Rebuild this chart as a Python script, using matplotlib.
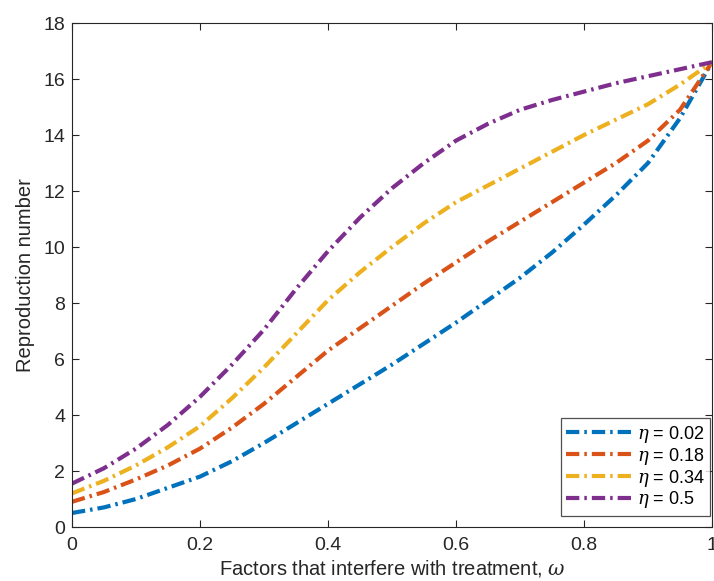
import matplotlib
matplotlib.use("Agg")
import matplotlib.pyplot as plt

plt.rcParams['font.family'] = ['Liberation Sans', 'DejaVu Sans']
plt.rcParams['mathtext.fontset'] = 'dejavuserif'

# valeurs lues sur la figure, pas de 0.05
omega = [0.0, 0.05, 0.1, 0.15, 0.2, 0.25, 0.3, 0.35, 0.4, 0.45, 0.5,
         0.55, 0.6, 0.65, 0.7, 0.75, 0.8, 0.85, 0.9, 0.95, 1.0]
r_002 = [0.5, 0.7, 1.0, 1.4, 1.8, 2.35, 3.0, 3.7, 4.4, 5.1, 5.8,
         6.55, 7.3, 8.1, 8.9, 9.8, 10.8, 11.85, 13.0, 14.6, 16.6]
r_018 = [0.9, 1.25, 1.7, 2.2, 2.8, 3.55, 4.4, 5.35, 6.3, 7.1, 7.9,
         8.7, 9.45, 10.2, 10.9, 11.6, 12.3, 13.0, 13.8, 14.9, 16.6]
r_034 = [1.2, 1.65, 2.2, 2.85, 3.6, 4.6, 5.7, 6.9, 8.1, 9.1, 10.0,
         10.85, 11.6, 12.2, 12.8, 13.4, 14.0, 14.55, 15.1, 15.8, 16.6]
r_05 = [1.55, 2.1, 2.8, 3.65, 4.65, 5.8, 7.05, 8.5, 9.85, 11.05, 12.1,
        13.0, 13.8, 14.4, 14.9, 15.25, 15.55, 15.85, 16.1, 16.35, 16.6]
labels = [r'$\eta$ = 0.02', r'$\eta$ = 0.18', r'$\eta$ = 0.34', r'$\eta$ = 0.5']
colors = ['#0072BD', '#D95319', '#EDB120', '#7E2F8E']

fig = plt.figure(figsize=(7.14, 5.81), dpi=100)
ax = fig.add_axes([72 / 714, 1 - 527 / 581, 640 / 714, 504 / 581])

for ys, lab, c in zip([r_002, r_018, r_034, r_05], labels, colors):
    ax.plot(omega, ys, linestyle=(0, (3.2, 1.2, 0.6, 1.2)), color=c,
            linewidth=3.0, label=lab, solid_joinstyle='round')

ax.set_xlim(0, 1)
ax.set_ylim(0, 18)
ax.set_xticks([0, 0.2, 0.4, 0.6, 0.8, 1])
ax.set_xticklabels(['0', '0.2', '0.4', '0.6', '0.8', '1'])
ax.set_yticks(range(0, 19, 2))
ax.tick_params(direction='in', labelsize=14, length=5, top=True, right=True,
               color='#262626', labelcolor='#262626', pad=5)
ax.tick_params(axis='x', pad=7)
for s in ax.spines.values():
    s.set_color('#262626')
    s.set_linewidth(0.8)

ax.set_xlabel(r'Factors that interfere with treatment, $\omega$', fontsize=14.5,
              color='#262626', labelpad=3)
ax.set_ylabel('Reproduction number', fontsize=14.5, color='#262626', labelpad=6)

leg = ax.legend(loc='lower right', fontsize=13, handlelength=3.6,
                handletextpad=0.3, labelspacing=0.05, borderpad=0.3,
                borderaxespad=0, frameon=True, fancybox=False,
                edgecolor='#262626', bbox_to_anchor=(0.997, 0.022))
leg.get_frame().set_linewidth(0.9)

fig.savefig('out.png', dpi=100)
